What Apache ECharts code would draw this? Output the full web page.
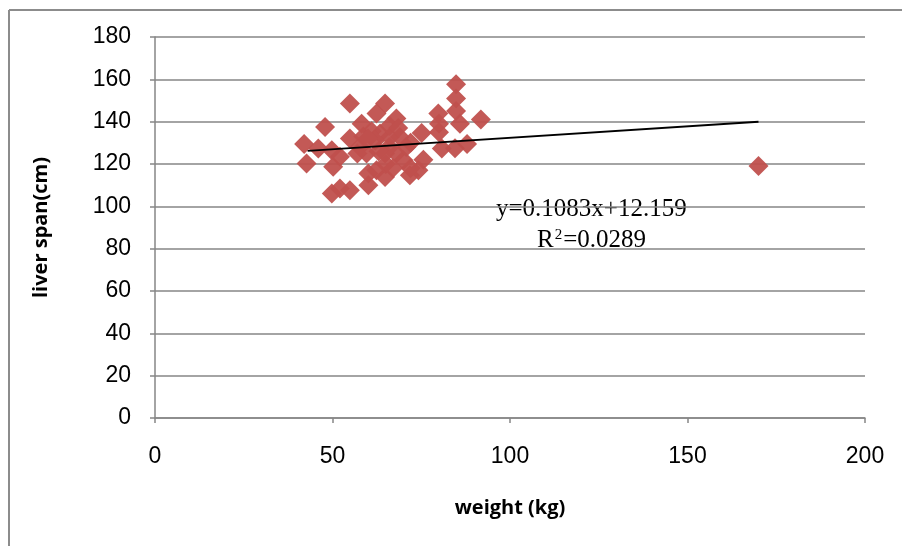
<!DOCTYPE html>
<html>
<head>
<meta charset="utf-8">
<script src="https://cdn.jsdelivr.net/npm/echarts@6/dist/echarts.min.js"></script>
<style>
html,body{margin:0;padding:0;background:#fff;}
#chart{width:902px;height:546px;}
</style>
</head>
<body>
<div id="chart"></div>
<script>
// weight (kg)
var weightKg = [84.8, 84.8, 84.8, 85.9, 91.8, 79.8, 80, 80, 80.8, 84.5, 87.9, 75.1, 75.6, 74.2, 71.8,
  54.9, 47.9, 42, 46, 42.7, 49.8, 50.2, 49.8, 52.1, 54.9, 52.1, 54.9, 58.2, 64.8, 62.4, 68,
  60.1, 60.1, 64.8, 62.4, 57.7, 59.6, 57, 66.2, 69, 63.4, 61, 68, 64.8, 70, 65, 70.8, 58.7,
  66, 62, 72, 68.5, 66, 63, 72, 60, 67, 170];
// liver span (cm)
var liverSpan = [157.7, 151, 145, 139, 141, 143.8, 139, 135, 127.3, 127.5, 129.4, 134.7, 122, 117, 114.7,
  148.6, 137.5, 129.4, 127.3, 120.2, 126.5, 118.7, 106.1, 108.4, 107.6, 123.4, 132, 139, 148.6, 143.8, 141.5,
  115.5, 110, 113.9, 117, 128, 125, 125, 132.8, 132.8, 134.4, 135.5, 125, 125, 121.8, 120, 128, 133,
  138, 131, 118, 137, 128, 126, 130, 132, 118, 119.1];
// trendline endpoints as drawn
var trendX = [43, 170];
var trendY = [126.2, 140.0];
var xTicks = [0, 50, 100, 150, 200];
var yTicks = [0, 20, 40, 60, 80, 100, 120, 140, 160, 180];
var eqText = 'y=0.1083x+12.159';

var chart = echarts.init(document.getElementById('chart'));
var pts = weightKg.map(function(w, i){ return [w, liverSpan[i]]; });
var trend = trendX.map(function(x, i){ return [x, trendY[i]]; });
var axisGray = '#868686';
chart.setOption({
  animation: false,
  backgroundColor: '#fff',
  grid: {left: 155, right: 37, top: 37, bottom: 128},
  xAxis: {
    type: 'value', min: xTicks[0], max: xTicks[xTicks.length-1], interval: 50,
    name: 'weight (kg)', nameLocation: 'middle', nameGap: 80,
    nameTextStyle: {fontFamily: 'Open Sans', fontWeight: 'bold', fontSize: 20, color: '#000'},
    axisLine: {show: true, onZero: false, lineStyle: {color: axisGray, width: 1.5}},
    axisTick: {show: true, length: 5, lineStyle: {color: axisGray, width: 1.5}},
    axisLabel: {fontFamily: 'Liberation Sans', fontSize: 23, color: '#000', margin: 27},
    splitLine: {show: false}
  },
  yAxis: {
    type: 'value', min: yTicks[0], max: yTicks[yTicks.length-1], interval: 20,
    name: 'liver span(cm)', nameLocation: 'middle', nameGap: 104, nameRotate: 90,
    nameTextStyle: {fontFamily: 'Open Sans', fontWeight: 'bold', fontSize: 20, color: '#000'},
    axisLine: {show: true, lineStyle: {color: axisGray, width: 1.5}},
    axisTick: {show: true, length: 5, lineStyle: {color: axisGray, width: 1.5}},
    axisLabel: {fontFamily: 'Liberation Sans', fontSize: 23, color: '#000', margin: 24},
    splitLine: {show: true, lineStyle: {color: axisGray, width: 1.5}}
  },
  graphic: [
    {type: 'line', shape: {x1: 9, y1: 10, x2: 902, y2: 10}, style: {stroke: '#8c8c8c', lineWidth: 2}},
    {type: 'line', shape: {x1: 9, y1: 10, x2: 9, y2: 546}, style: {stroke: '#8c8c8c', lineWidth: 2}},
    {type: 'text', left: 496, top: 197, style: {text: eqText, font: '25px "Liberation Serif"', fill: '#000'}},
    {type: 'text', left: 537, top: 228, style: {
      text: '{a|R}{s|2}{a|=0.0289}',
      rich: {
        a: {font: '25px "Liberation Serif"', fill: '#000', verticalAlign: 'bottom'},
        s: {font: '15px "Liberation Serif"', fill: '#000', verticalAlign: 'top', padding: [0, 1, 8, 1]}
      }
    }}
  ],
  series: [
    {
      type: 'scatter', data: pts, symbol: 'diamond', symbolSize: [20, 20],
      itemStyle: {color: '#C0504D', opacity: 0.95}, z: 2
    },
    {
      type: 'line', data: trend, symbol: 'none', lineStyle: {color: '#000', width: 2}, z: 3
    }
  ]
});
</script>
</body>
</html>
